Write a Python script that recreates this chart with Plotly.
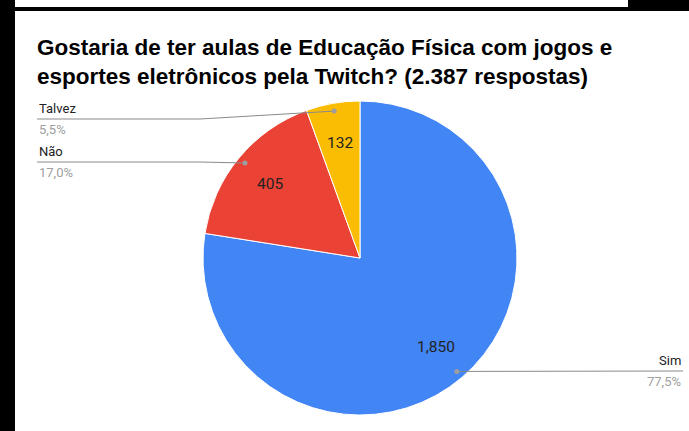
import math
import plotly.graph_objects as go

# Survey answers
categories = ["Sim", "Não", "Talvez"]
values = [1850, 405, 132]
colors = ["#4285F4", "#EA4335", "#FBBC04"]
title_text = "Gostaria de ter aulas de Educação Física com jogos e<br>esportes eletrônicos pela Twitch? (2.387 respostas)"

W, H = 689, 431
CX, CY, R = 360, 258, 157  # pie centre and radius in pixels


def px(x):
    return x / W


def py(y):
    return 1 - y / H


total = sum(values)

fig = go.Figure(go.Pie(
    labels=categories,
    values=values,
    sort=False,
    direction="clockwise",
    rotation=0,
    marker=dict(colors=colors, line=dict(color="white", width=1)),
    textinfo="none",
    hoverinfo="skip",
    showlegend=False,
    domain=dict(x=[px(CX - R), px(CX + R)], y=[py(CY + R), py(CY - R)]),
))

shapes = []
annotations = []

# Label rows: (text x, row y, anchor side, knee x)
label_rows = {
    "Talvez": (37, 119, "left", 200),
    "Não": (37, 162, "left", 200),
    "Sim": (683, 371, "right", None),
}

cum = 0
for name, v in zip(categories, values):
    mid = (cum + v / 2) / total * 2 * math.pi
    cum += v
    # value inside slice
    vx = CX + 0.745 * R * math.sin(mid)
    vy = CY - 0.745 * R * math.cos(mid)
    annotations.append(dict(
        x=px(vx), y=py(vy), xref="paper", yref="paper",
        xanchor="center", yanchor="middle",
        text=f"{v:,}", showarrow=False,
        font=dict(family="Roboto, Arial", size=15.5, color="#222222"),
    ))
    # leader dot on slice
    dx = CX + 0.95 * R * math.sin(mid)
    dy = CY - 0.95 * R * math.cos(mid)
    tx, ty, side, knee = label_rows[name]
    if knee is None:
        path = f"M {px(tx)} {py(ty)} L {px(dx)} {py(dy)}"
    else:
        path = f"M {px(tx)} {py(ty)} L {px(knee)} {py(ty)} L {px(dx)} {py(dy)}"
    shapes.append(dict(type="path", path=path, xref="paper", yref="paper",
                       line=dict(color="#8a8a8a", width=1)))
    shapes.append(dict(type="circle", xref="paper", yref="paper",
                       x0=px(dx - 2.5), x1=px(dx + 2.5), y0=py(dy + 2.5), y1=py(dy - 2.5),
                       fillcolor="#9e9e9e", line=dict(width=0)))
    pct = f"{v / total * 100:.1f}%".replace(".", ",")
    annotations.append(dict(
        x=px(tx), y=py(ty - 1), xref="paper", yref="paper",
        xanchor=side, yanchor="bottom", text=name, showarrow=False,
        font=dict(family="Roboto, Arial", size=13, color="#222222"),
    ))
    annotations.append(dict(
        x=px(tx), y=py(ty + 1), xref="paper", yref="paper",
        xanchor=side, yanchor="top", text=pct, showarrow=False,
        font=dict(family="Roboto, Arial", size=13, color="#a0a0a0"),
    ))

# Title
annotations.append(dict(
    x=px(35), y=py(33), xref="paper", yref="paper",
    xanchor="left", yanchor="top", align="left",
    text=f"<b>{title_text}</b>", showarrow=False,
    font=dict(family="Liberation Sans, Arial", size=22.5, color="#000000"),
))

# Dark frame edges
shapes += [
    dict(type="rect", xref="paper", yref="paper", x0=0, x1=px(15), y0=0, y1=1,
         fillcolor="black", line=dict(width=0)),
    dict(type="rect", xref="paper", yref="paper", x0=px(15), x1=px(628), y0=py(11), y1=py(7),
         fillcolor="black", line=dict(width=0)),
    dict(type="rect", xref="paper", yref="paper", x0=px(628), x1=1, y0=py(11), y1=1,
         fillcolor="black", line=dict(width=0)),
]

fig.update_layout(
    width=W, height=H,
    margin=dict(l=0, r=0, t=0, b=0),
    paper_bgcolor="white", plot_bgcolor="white",
    shapes=shapes, annotations=annotations,
)

fig.write_html("out.html")
